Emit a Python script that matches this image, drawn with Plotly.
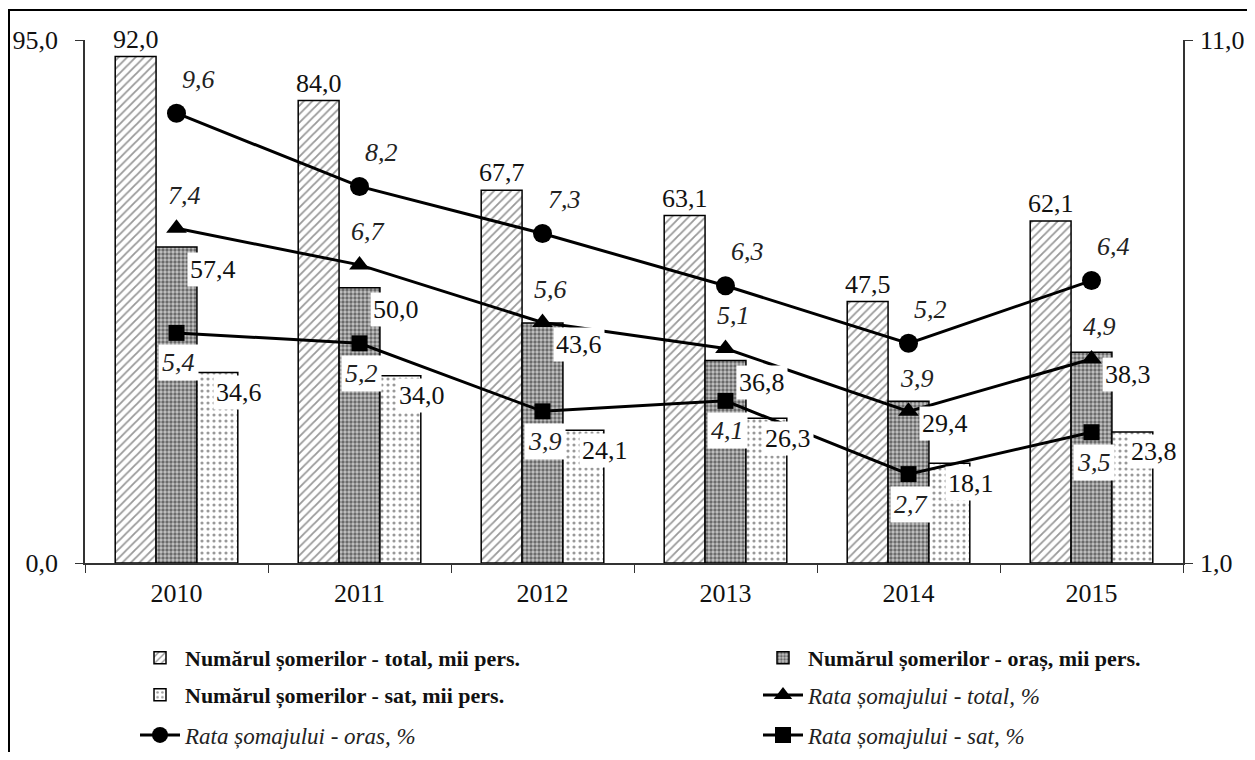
import plotly.graph_objects as go
from plotly.subplots import make_subplots

years = ["2010", "2011", "2012", "2013", "2014", "2015"]
someri_total = [92.0, 84.0, 67.7, 63.1, 47.5, 62.1]
someri_oras = [57.4, 50.0, 43.6, 36.8, 29.4, 38.3]
someri_sat = [34.6, 34.0, 24.1, 26.3, 18.1, 23.8]
rata_total = [7.4, 6.7, 5.6, 5.1, 3.9, 4.9]
rata_oras = [9.6, 8.2, 7.3, 6.3, 5.2, 6.4]
rata_sat = [5.4, 5.2, 3.9, 4.1, 2.7, 3.5]

names = [
    "Numărul șomerilor - total, mii pers.",
    "Numărul șomerilor - oraș, mii pers.",
    "Numărul șomerilor - sat, mii pers.",
    "Rata șomajului - total, %",
    "Rata șomajului - oras, %",
    "Rata șomajului - sat, %",
]
left_ticks = [0, 95]
right_ticks = [1, 11]


def fmt(v):
    return f"{v:.1f}".replace(".", ",")


FONT = "Liberation Serif"
OFF = 8                      # browser body margin
W, H = 1255 - 2 * OFF, 760 - 2 * OFF
ML, MT = 85 - OFF, 40 - OFF
PW, PH = 1098, 523
MR, MB = W - ML - PW, H - MT - PH
FS = 26

fig = make_subplots(specs=[[{"secondary_y": True}]])

bar_line = dict(color="black", width=1.5)
fig.add_trace(go.Bar(
    x=years, y=someri_total, name=names[0], legend="legend", showlegend=True,
    marker=dict(color="white", line=bar_line,
                pattern=dict(shape="/", size=6, solidity=0.3, fgcolor="#333", bgcolor="white")),
    text=[fmt(v) for v in someri_total], textposition="outside",
    textfont=dict(family=FONT, size=FS, color="#111"), constraintext="none", cliponaxis=False,
), secondary_y=False)
fig.add_trace(go.Bar(
    x=years, y=someri_oras, name=names[1], legend="legend2", showlegend=True,
    marker=dict(color="#bbbbbb", line=bar_line,
                pattern=dict(shape=".", size=4, solidity=0.55, fgcolor="#111", bgcolor="#c4c4c4")),
), secondary_y=False)
fig.add_trace(go.Bar(
    x=years, y=someri_sat, name=names[2], legend="legend3", showlegend=True,
    marker=dict(color="white", line=bar_line,
                pattern=dict(shape=".", size=6, solidity=0.22, fgcolor="#333", bgcolor="white")),
), secondary_y=False)

line_style = dict(color="black", width=3)
fig.add_trace(go.Scatter(
    x=years, y=rata_total, name=names[3], legend="legend4", mode="lines+markers", showlegend=True,
    line=line_style, marker=dict(symbol="triangle-up", size=18, color="black"),
    cliponaxis=False,
), secondary_y=True)
fig.add_trace(go.Scatter(
    x=years, y=rata_oras, name=names[4], legend="legend5", mode="lines+markers", showlegend=True,
    line=line_style, marker=dict(symbol="circle", size=19, color="black"),
    cliponaxis=False,
), secondary_y=True)
fig.add_trace(go.Scatter(
    x=years, y=rata_sat, name=names[5], legend="legend6", mode="lines+markers", showlegend=True,
    line=line_style, marker=dict(symbol="square", size=16, color="black"),
    cliponaxis=False,
), secondary_y=True)

annotations = []
num_font = dict(family=FONT, size=FS, color="#111")
ital_font = dict(family=FONT, size=FS, color="#222", style="italic")
for i, yr in enumerate(years):
    annotations.append(dict(x=i, y=someri_oras[i], xref="x", yref="y", text=fmt(someri_oras[i]),
                            showarrow=False, xshift=36, yshift=-22, font=num_font,
                            bgcolor="white", borderpad=2))
    annotations.append(dict(x=i, y=someri_sat[i], xref="x", yref="y", text=fmt(someri_sat[i]),
                            showarrow=False, xshift=62, yshift=-20, font=num_font,
                            bgcolor="white", borderpad=2))
    annotations.append(dict(x=i, y=rata_oras[i], xref="x", yref="y2", text=fmt(rata_oras[i]),
                            showarrow=False, xshift=22, yshift=34, font=ital_font))
    annotations.append(dict(x=i, y=rata_total[i], xref="x", yref="y2", text=fmt(rata_total[i]),
                            showarrow=False, xshift=8, yshift=33, font=ital_font))
    annotations.append(dict(x=i, y=rata_sat[i], xref="x", yref="y2", text=fmt(rata_sat[i]),
                            showarrow=False, xshift=2, yshift=-30, font=ital_font,
                            bgcolor="white", borderpad=3))


def px_x(p):
    return (p - OFF - ML) / PW


def px_y(p):
    return (MT + PH - (p - OFF)) / PH


shapes = [
    dict(type="line", xref="paper", yref="paper", x0=px_x(9), x1=px_x(9), y0=px_y(10), y1=px_y(760),
         line=dict(color="black", width=2)),
    dict(type="line", xref="paper", yref="paper", x0=px_x(8), x1=px_x(1255), y0=px_y(10), y1=px_y(10),
         line=dict(color="black", width=2)),
]

bar_leg_font = dict(family=FONT, size=22, color="#111", weight="bold")
line_leg_font = dict(family=FONT, size=23, color="#222", style="italic")


def leg(x_text, y_px, font):
    return dict(orientation="h", xanchor="left", yanchor="middle",
                xref="container", yref="container",
                x=(x_text - 50 - OFF) / W, y=1 - (y_px - OFF) / H,
                bgcolor="rgba(0,0,0,0)", font=font, itemwidth=40)


col1, col2 = 185, 808
fig.update_layout(
    width=W, height=H,
    margin=dict(l=ML, r=MR, t=MT, b=MB, autoexpand=False),
    showlegend=True,
    plot_bgcolor="white", paper_bgcolor="white",
    barmode="group", bargap=0.33, bargroupgap=0,
    font=dict(family=FONT, size=FS, color="#111"),
    annotations=annotations, shapes=shapes,
    legend=leg(col1, 658, bar_leg_font),
    legend2=leg(col2, 658, bar_leg_font),
    legend3=leg(col1, 695, bar_leg_font),
    legend4=leg(col2, 695, line_leg_font),
    legend5=leg(col1, 735, line_leg_font),
    legend6=leg(col2, 735, line_leg_font),
)
fig.update_xaxes(type="category", tickson="boundaries", ticks="outside", ticklen=8,
                 domain=[0, 1],
                 tickcolor="#333", showline=True, linecolor="#333", linewidth=1.5,
                 showgrid=False, ticklabelstandoff=6,
                 tickfont=dict(family=FONT, size=FS, color="#111"))
fig.update_yaxes(range=[0, 95], tickvals=left_ticks, ticktext=[fmt(v) for v in left_ticks],
                 ticks="outside", ticklen=8, tickcolor="#333", showline=True, linecolor="#333",
                 linewidth=1.5, showgrid=False, zeroline=False, ticklabelstandoff=12,
                 tickfont=dict(family=FONT, size=FS, color="#111"), secondary_y=False)
fig.update_yaxes(range=[1, 11], tickvals=right_ticks, ticktext=[fmt(v) for v in right_ticks],
                 ticks="outside", ticklen=8, tickcolor="#333", showline=True, linecolor="#333",
                 linewidth=1.5, showgrid=False, zeroline=False, ticklabelstandoff=2,
                 tickfont=dict(family=FONT, size=FS, color="#111"), secondary_y=True)

fig.write_html("out.html")
